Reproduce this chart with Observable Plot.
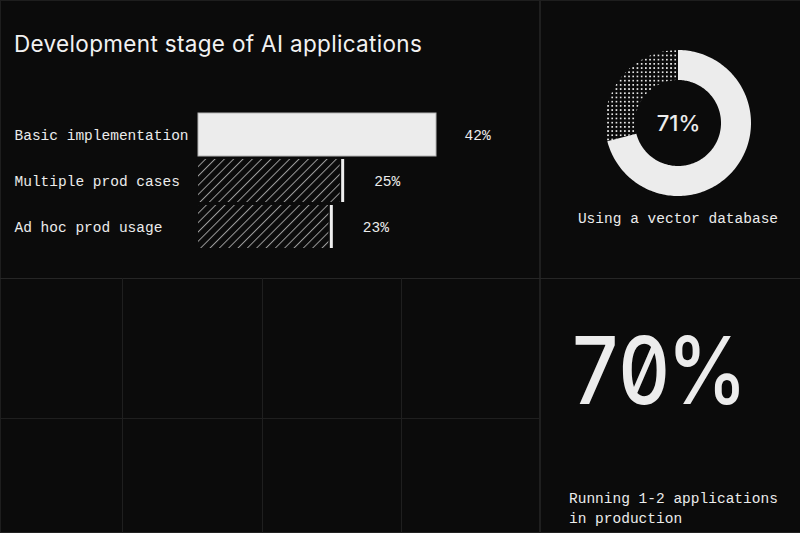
<!DOCTYPE html>
<html>
<head>
<meta charset="utf-8">
<script src="https://cdn.jsdelivr.net/npm/d3@7"></script>
<script src="https://cdn.jsdelivr.net/npm/@observablehq/plot@0.6"></script>
<style>
  html, body { margin: 0; padding: 0; background: #0b0b0b; }
  #root { position: relative; width: 800px; height: 533px; overflow: hidden; background: #0b0b0b; }
  .line { position: absolute; background: #262626; }
  .txt { position: absolute; color: #ececec; white-space: nowrap; line-height: 1; }
  .mono { font-family: "Liberation Mono", "DejaVu Sans Mono", monospace; font-size: 14.5px; }
  .plot { position: absolute; }
</style>
</head>
<body>
<div id="root">
  <div class="line" style="left:0;top:0;width:800px;height:1px;background:#1e1e1e"></div>
  <div class="line" style="left:0;top:0;width:1px;height:533px;background:#1e1e1e"></div>
  <div class="line" style="left:0;top:532px;width:800px;height:1px;background:#222"></div>
  <div class="line" style="left:539px;top:0;width:2px;height:533px;background:#1f1f1f"></div>
  <div class="line" style="left:0;top:278px;width:800px;height:1px;"></div>
  <div class="line" style="left:0;top:418px;width:540px;height:1px;background:#1f1f1f"></div>
  <div class="line" style="left:122px;top:278px;width:1px;height:255px;background:#1f1f1f"></div>
  <div class="line" style="left:262px;top:278px;width:1px;height:255px;background:#1f1f1f"></div>
  <div class="line" style="left:401px;top:278px;width:1px;height:255px;background:#1f1f1f"></div>

  <div class="txt" id="title" style="left:14px;top:33px;font-family:Inter, 'Noto Sans', sans-serif;font-size:22.5px;letter-spacing:0.33px;color:#f2f2f2;"></div>
  <div class="txt mono" id="donutCaption" style="left:540px;width:276px;text-align:center;top:212px;"></div>
  <div class="txt" id="bigStat" style="left:569px;top:324px;font-family:Inter, sans-serif;font-weight:500;font-size:93px;font-feature-settings:'zero' 1, 'tnum' 1;letter-spacing:-4px;transform-origin:0 0;transform:scaleX(0.87);"></div>
  <div class="txt mono" id="bigCaption" style="left:569px;top:490px;line-height:19.5px;white-space:normal;width:225px;"></div>

  <div class="plot" id="bars" style="left:0;top:0;"></div>
  <div class="plot" id="donut" style="left:540px;top:0;"></div>
</div>
<script>
// ---- data ----
const chartTitle = "Development stage of AI applications";
const stages = ["Basic implementation", "Multiple prod cases", "Ad hoc prod usage"];
const stageShares = [42, 25, 23];

const donutLabels = ["Using", "Not using"];
const donutShares = [71, 29];
const donutCaption = "Using a vector database";

const bigStatValue = 70;
const bigStatCaption = ["Running 1-2 applications", "in production"];

// ---- texts ----
document.getElementById("title").textContent = chartTitle;
document.getElementById("donutCaption").textContent = donutCaption;
document.getElementById("bigStat").textContent = bigStatValue + "%";
document.getElementById("bigCaption").innerHTML = bigStatCaption.join("<br>");

const MONO = "Liberation Mono, DejaVu Sans Mono, monospace";
const FG = "#ececec";

// ---- bar chart ----
const barData = stages.map((s, i) => ({stage: s, value: stageShares[i], first: i === 0}));

const bars = Plot.plot({
  width: 540,
  height: 278,
  marginLeft: 198,
  marginRight: 104,
  marginTop: 111,
  marginBottom: 29,
  style: {background: "transparent", color: FG, fontFamily: MONO, fontSize: "14.5px"},
  x: {domain: [0, 42], axis: null},
  y: {domain: stages, axis: null, paddingInner: 0.07, paddingOuter: 0.02},
  marks: [
    Plot.barX(barData.filter(d => d.first), {x: "value", y: "stage", fill: "#ececec", stroke: "#b5b5b5", strokeWidth: 1}),
    Plot.barX(barData.filter(d => !d.first), {x: "value", y: "stage", fill: "url(#hatch)"}),
    Plot.tickX(barData.filter(d => !d.first), {x: "value", y: "stage", stroke: "#efefef", strokeWidth: 3, dx: 2.5}),
    Plot.text(barData, {x: () => 0, y: "stage", text: "stage", textAnchor: "start", dx: -184, fill: FG, fontFamily: MONO, fontSize: 14.5}),
    Plot.text(barData.filter(d => d.first), {x: "value", y: "stage", text: d => d.value + "%", textAnchor: "start", dx: 28, fill: FG, fontFamily: MONO, fontSize: 14.5}),
    Plot.text(barData.filter(d => !d.first), {x: "value", y: "stage", text: d => d.value + "%", textAnchor: "start", dx: 34, fill: FG, fontFamily: MONO, fontSize: 14.5})
  ]
});
d3.select(bars).insert("defs", ":first-child").html(`
  <pattern id="hatch" patternUnits="userSpaceOnUse" width="6.6" height="10" patternTransform="rotate(45)">
    <line x1="0.5" y1="0" x2="0.5" y2="10" stroke="#9a9a9a" stroke-width="1"/>
  </pattern>`);
document.getElementById("bars").appendChild(bars);

// ---- donut ----
const rOuter = 1, rInner = 43 / 73;
const arcs = d3.pie().sort(null).value(d => d)(donutShares);
const arcPoints = arcs.flatMap((a, i) =>
  d3.range(0, 181).map(j => {
    const t = a.startAngle + (a.endAngle - a.startAngle) * j / 180;
    return {k: donutLabels[i], t};
  })
);
const donut = Plot.plot({
  width: 260,
  height: 278,
  marginLeft: 65,
  marginRight: 49,
  marginTop: 50,
  marginBottom: 82,
  style: {background: "transparent", color: FG},
  x: {domain: [-1, 1], axis: null},
  y: {domain: [-1, 1], axis: null},
  marks: [
    Plot.area(arcPoints.filter(d => d.k === donutLabels[0]), {
      x1: d => rInner * Math.sin(d.t), y1: d => rInner * Math.cos(d.t),
      x2: d => rOuter * Math.sin(d.t), y2: d => rOuter * Math.cos(d.t),
      fill: "#ececec"
    }),
    Plot.area(arcPoints.filter(d => d.k === donutLabels[1]), {
      x1: d => rInner * Math.sin(d.t), y1: d => rInner * Math.cos(d.t),
      x2: d => rOuter * Math.sin(d.t), y2: d => rOuter * Math.cos(d.t),
      fill: "url(#dots)"
    }),
    Plot.text([donutShares[0]], {x: () => 0, y: () => 0, text: d => d + "%", fill: FG, fontFamily: "Inter, sans-serif", fontWeight: 500, fontSize: 22})
  ]
});
d3.select(donut).insert("defs", ":first-child").html(`
  <pattern id="dots" patternUnits="userSpaceOnUse" width="4.2" height="4.2">
    <rect x="0" y="0" width="1.7" height="1.7" fill="#e6e6e6"/>
  </pattern>`);
document.getElementById("donut").appendChild(donut);
</script>
</body>
</html>
